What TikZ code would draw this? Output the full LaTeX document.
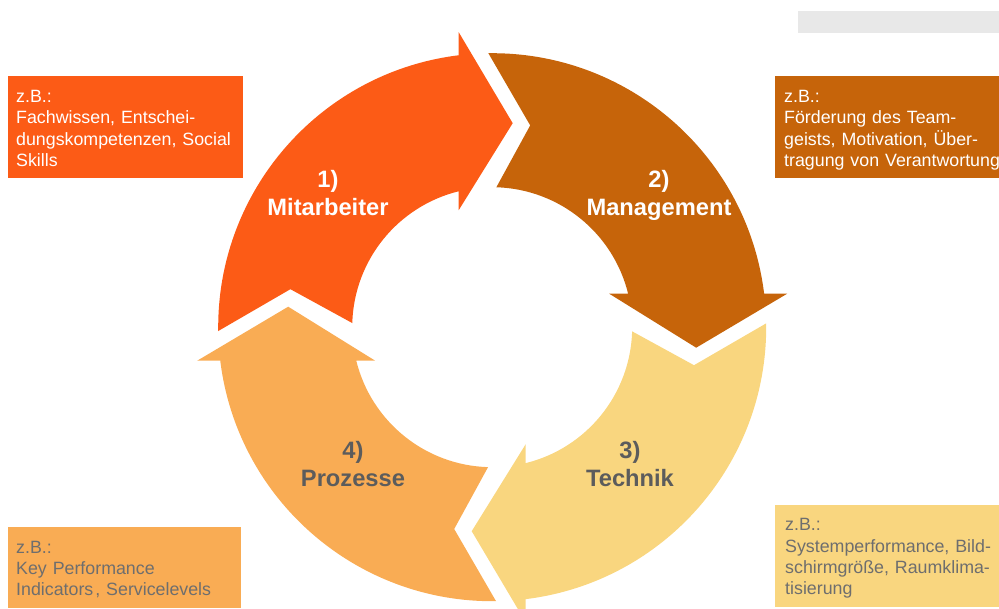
\documentclass[tikz,border=0pt]{standalone}
\usepackage{fontspec}
\setmainfont{Liberation Sans}
\definecolor{cA}{HTML}{FC5B16}
\definecolor{cB}{HTML}{C6640A}
\definecolor{cC}{HTML}{F9D67F}
\definecolor{cD}{HTML}{F9AC54}
\definecolor{barcol}{HTML}{E8E8E8}
\definecolor{lightgraytext}{HTML}{6E6E6E}
\definecolor{labelgray}{HTML}{5C5C5C}
\tikzset{
  boxshape/.style={rectangle, inner sep=0pt, outer sep=0pt, anchor=north west},
  boxtext/.style={inner sep=0pt, anchor=base west, text width=400pt, align=left,
    font=\fontsize{17.8pt}{21.3pt}\selectfont},
  cyclabel/.style={inner sep=0pt, anchor=base, text width=220pt, align=center,
    font=\fontsize{23.7pt}{28pt}\selectfont\bfseries}
}
\begin{document}
\begin{tikzpicture}[x=1pt,y=1pt]
\useasboundingbox (0,0) rectangle (999,-609);
\clip (0,0) rectangle (999,-609);
% grey bar top right
\node[boxshape, fill=barcol, minimum width=201pt, minimum height=22pt] (bar) at (798,-10.7) {};
% cycle of four arrows
\begin{scope}[shift={(492.2,-327.2)}]
  \foreach \rot/\col in {0/cA, -90/cB, -180/cC, -270/cD}{
    \fill[\col, rotate=\rot] (180.8:274) arc[start angle=180.8, end angle=97.02, radius=274]
      -- (-33.5,295) -- (20.5,204) -- (-33.5,117)
      -- (103.85:140) arc[start angle=103.85, end angle=178.3, radius=140]
      -- (-201.8,38) -- cycle;
  }
\end{scope}
% labels
\node[cyclabel, text=white] (l1) at (328,-188) {1)\\Mitarbeiter};
\node[cyclabel, text=white] (l2) at (659,-188) {2)\\Management};
\node[cyclabel, text=labelgray] (l3) at (630,-459) {3)\\Technik};
\node[cyclabel, text=labelgray] (l4) at (353,-459) {4)\\Prozesse};
% boxes
\node[boxshape, fill=cA, minimum width=235pt, minimum height=102pt] (b1) at (8,-76) {};
\node[boxshape, fill=cB, minimum width=230pt, minimum height=102pt] (b2) at (775,-76) {};
\node[boxshape, fill=cC, minimum width=230pt, minimum height=102pt] (b3) at (775,-505) {};
\node[boxshape, fill=cD, minimum width=233pt, minimum height=81pt] (b4) at (8,-527) {};
\node[boxtext, text=white] (t1) at (16,-102.7) {z.B.:\\Fachwissen, Entschei-\\dungskompetenzen, Social\\Skills};
\node[boxtext, text=white] (t2) at (784,-102.7) {z.B.:\\Förderung des Team-\\geists, Motivation, Über-\\tragung von Verantwortung};
\node[boxtext, text=lightgraytext] (t3) at (785,-530.7) {z.B.:\\Systemperformance, Bild-\\schirmgröße, Raumklima-\\tisierung};
\node[boxtext, text=lightgraytext] (t4) at (16,-553.3) {z.B.:\\Key Performance\\Indicators\hspace{2pt}, Servicelevels};
\end{tikzpicture}
\end{document}
